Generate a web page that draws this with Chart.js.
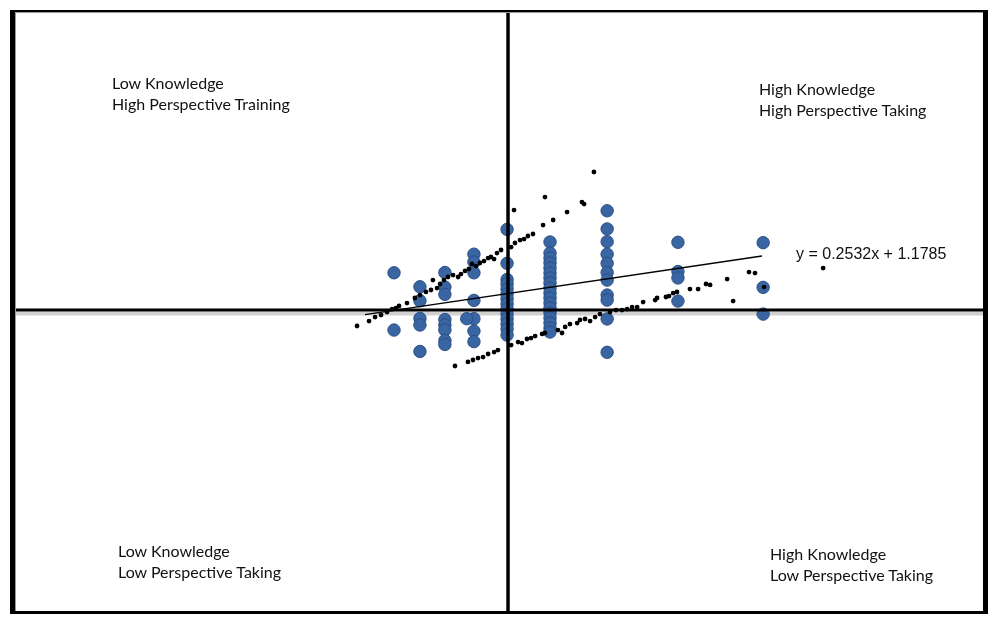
<!DOCTYPE html>
<html>
<head>
<meta charset="utf-8">
<script src="https://cdn.jsdelivr.net/npm/chart.js@4.4.1/dist/chart.umd.min.js"></script>
<style>
  html,body{margin:0;padding:0;background:#fff;}
  #wrap{position:relative;width:1000px;height:627px;overflow:hidden;}
  #plot{position:absolute;left:0;top:0;}
  .frame{position:absolute;left:10px;top:10px;width:978px;height:604px;box-sizing:border-box;
    border-left:5px solid #000;border-right:5px solid #000;border-top:2.5px solid #000;border-bottom:3px solid #000;
    box-shadow:inset 1px 1px 0 #9a9a9a;pointer-events:none;}
  .lbl{position:absolute;font-family:Lato,"Open Sans",sans-serif;font-size:16px;line-height:21px;color:#111;white-space:nowrap;}
  .eq{position:absolute;font-family:"Liberation Sans",Arial,sans-serif;font-size:16px;line-height:18px;color:#111;white-space:nowrap;}
</style>
</head>
<body>
<div id="wrap">
  <canvas id="plot" width="1000" height="627"></canvas>
  <div class="frame"></div>
  <div class="lbl" style="left:112px;top:72px">Low Knowledge<br>High Perspective Training</div>
  <div class="lbl" style="left:759px;top:78px">High Knowledge<br>High Perspective Taking</div>
  <div class="lbl" style="left:118px;top:540px">Low Knowledge<br>Low Perspective Taking</div>
  <div class="lbl" style="left:770px;top:543px">High Knowledge<br>Low Perspective Taking</div>
  <div class="eq" style="left:796px;top:245px">y = 0.2532x + 1.1785</div>
</div>
<script>
// quadrant plot: knowledge (x) vs perspective taking (y), axes cross at 0

const xRange = [-20.5, 19.79];
const yRange = [-21.5, 21.29];

// blue observations
const obsX = [
  -4.75,-4.75,
  -3.67,-3.67,-3.67,-3.67,-3.67,
  -2.63,-2.63,-2.63,-2.63,-2.63,-2.63,-2.63,-2.63,
  -1.42,-1.42,-1.42,-1.42,-1.42,-1.42,-1.42,-1.72,
  -0.04,-0.04,-0.04,-0.04,-0.04,-0.04,-0.04,-0.04,-0.04,-0.04,-0.04,-0.04,-0.04,-0.04,
  1.75,1.75,1.75,1.75,1.75,1.75,1.75,1.75,1.75,1.75,1.75,1.75,1.75,1.75,1.75,1.75,1.75,1.75,
  4.13,4.13,4.13,4.13,4.13,4.13,4.13,4.13,4.13,4.13,4.13,
  7.08,7.08,7.08,7.08,
  10.63,10.63,10.63
];
const obsY = [
  2.66,-1.43,
  1.66,0.66,-0.60,-1.07,-2.96,
  2.68,1.64,1.12,-0.68,-1.07,-1.43,-2.18,-2.46,
  3.99,3.43,2.66,0.69,-0.62,-1.50,-2.26,-0.62,
  5.76,3.34,2.18,1.86,1.50,1.14,0.79,0.43,0.07,-0.29,-0.64,-1.00,-1.36,-1.79,
  4.86,4.07,3.71,3.36,3.00,2.64,2.29,1.93,1.57,1.21,0.86,0.50,0.14,-0.21,-0.57,-0.93,-1.29,-1.57,
  7.09,5.79,4.88,3.99,3.34,2.68,2.14,1.07,0.71,-0.64,-3.02,
  4.84,2.75,2.29,0.64,
  4.81,1.62,-0.29
];

// small black points (upper + lower band)
const bandX = [
  -6.29,-5.79,-5.54,-5.29,-5.04,-4.83,-4.67,-4.54,-4.21,-3.88,-3.67,-3.42,-3.21,-3.13,-2.96,-2.83,-2.67,-2.50,
  -2.29,-2.08,-1.96,-1.79,-1.63,-1.50,-1.33,-1.17,-1.00,-0.83,-0.71,-0.58,-0.46,-0.29,0.13,0.29,0.50,0.67,0.83,
  1.04,1.46,1.54,1.88,2.46,3.08,3.17,3.58,0.25,
  -2.21,-1.67,-1.46,-1.25,-1.04,-0.83,-0.58,-0.42,0.13,0.42,0.58,0.79,0.96,1.13,1.42,1.54,2.08,2.25,2.38,2.58,
  2.88,3.00,3.21,3.42,3.63,3.83,4.25,4.50,4.75,4.96,5.17,5.38,5.63,6.13,6.21,6.58,6.71,6.88,7.04,7.58,7.92,
  8.25,8.42,9.13,9.38,10.04,10.29,10.67,13.13
];
const bandY = [
  -1.14,-0.79,-0.50,-0.36,-0.14,0.07,0.14,0.29,0.50,0.86,1.07,1.29,1.43,2.14,1.57,1.86,2.14,2.36,
  2.50,2.36,2.57,2.79,2.93,3.29,3.14,3.36,3.50,3.71,3.79,3.64,4.07,4.29,4.50,4.79,5.00,5.07,5.29,
  5.43,6.07,8.07,6.43,7.00,7.71,7.57,9.86,7.14,
  -4.00,-3.71,-3.57,-3.43,-3.36,-3.14,-3.00,-2.86,-2.50,-2.29,-2.36,-2.07,-2.00,-1.86,-1.71,-1.64,-1.43,-1.64,-1.21,-1.00,
  -0.93,-0.71,-0.64,-0.79,-0.50,-0.29,-0.14,0.00,0.00,0.07,0.21,0.21,0.57,0.71,0.86,0.93,1.00,1.21,1.29,1.50,1.50,
  1.86,1.79,2.21,0.64,2.71,2.64,1.64,3.00
];

// trend line y = 0.2532x + 1.1785, drawn end points
const trendX = [-5.96, 10.58];
const trendY = [-0.33, 3.86];

const pts = (xs, ys) => xs.map((x, i) => ({x, y: ys[i]}));

const axisShadow = {
  id: 'axisShadow',
  beforeDatasetsDraw(chart){
    const {ctx, chartArea, scales} = chart;
    const y0 = scales.y.getPixelForValue(0);
    ctx.save();
    ctx.strokeStyle = 'rgba(150,150,150,0.45)';
    ctx.lineWidth = 4;
    ctx.beginPath();
    ctx.moveTo(chartArea.left, y0 + 3.5);
    ctx.lineTo(chartArea.right, y0 + 3.5);
    ctx.stroke();
    ctx.restore();
  }
};

new Chart(document.getElementById('plot').getContext('2d'), {
  type: 'scatter',
  data: {
    datasets: [
      {label:'band', data: pts(bandX, bandY), pointRadius: 2.4, pointHoverRadius: 2.4,
        backgroundColor: '#000', borderColor: '#000', borderWidth: 0, order: 1},
      {label:'trend', type:'line', data: pts(trendX, trendY), borderColor:'#000', borderWidth: 1.3,
        pointRadius: 0, fill: false, order: 2},
      {label:'xaxis', type:'line', data: pts(xRange, [0, 0]), borderColor:'#000', borderWidth: 3,
        pointRadius: 0, fill: false, order: 3},
      {label:'yaxis', type:'line', data: pts([0, 0], yRange), borderColor:'#000', borderWidth: 3.5,
        pointRadius: 0, fill: false, order: 3},
      {label:'obs', data: pts(obsX, obsY), pointRadius: 6.2, pointHoverRadius: 6.2,
        backgroundColor: '#3a65a3', borderColor: '#2a4f84', borderWidth: 1, order: 4},
    ]
  },
  options: {
    responsive: false,
    animation: false,
    layout: {padding: {left: 16, right: 17, top: 12, bottom: 16}},
    plugins: {legend: {display: false}, tooltip: {enabled: false}},
    scales: {
      x: {type: 'linear', display: false, min: xRange[0], max: xRange[1]},
      y: {type: 'linear', display: false, min: yRange[0], max: yRange[1]},
    },
  },
  plugins: [axisShadow]
});
</script>
</body>
</html>
